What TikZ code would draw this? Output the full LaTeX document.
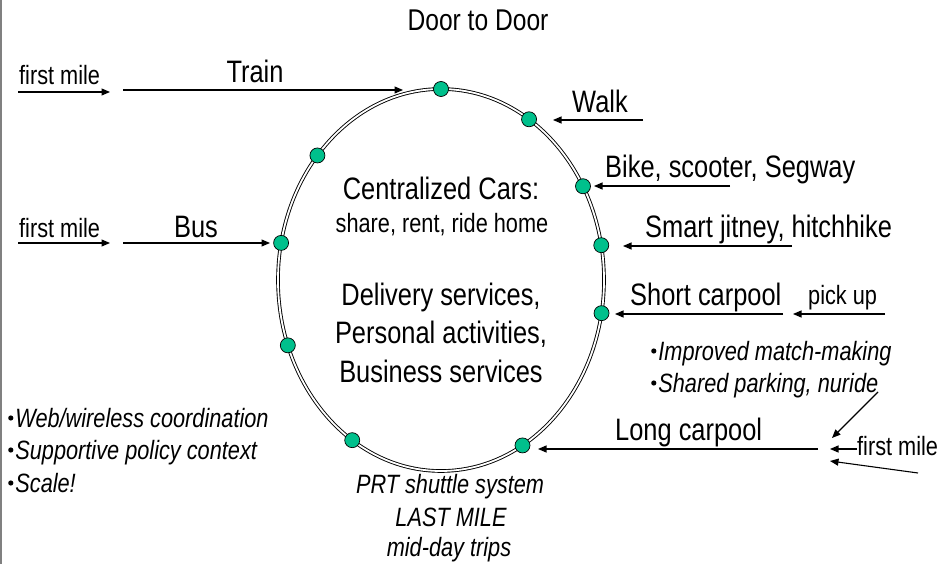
\documentclass[tikz,border=0pt]{standalone}
\usepackage{fontspec}
\setmainfont{Liberation Sans}[FakeStretch=0.82]
\usetikzlibrary{arrows.meta,calc}
\definecolor{dotgreen}{RGB}{0,192,140}
\newcommand{\mybul}{\tikz[baseline=0pt, x=1pt, y=1pt]{\path (0,0) -- (5,0); \fill[black] (2.5,9) circle[radius=2.6pt];}\hspace{2pt}}
\begin{document}
\begin{tikzpicture}[x=1pt,y=-1pt,
 big/.style={font=\fontsize{31}{31}\selectfont, inner sep=0pt, anchor=base},
 bigw/.style={font=\fontsize{31}{31}\selectfont, inner sep=0pt, anchor=base west},
 small/.style={font=\fontsize{26.5}{26.5}\selectfont, inner sep=0pt, anchor=base},
 smallw/.style={font=\fontsize{26.5}{26.5}\selectfont, inner sep=0pt, anchor=base west},
 note/.style={font=\fontsize{26.5}{26.5}\selectfont\itshape, inner sep=0pt, anchor=base west},
 notec/.style={font=\fontsize{26.5}{26.5}\selectfont\itshape, inner sep=0pt, anchor=base},
 arr/.style={-{Triangle[length=8.5pt,width=7pt]}, line width=1.1pt},
 dot/.style={circle, draw=black, line width=0.7pt, fill=dotgreen, minimum size=15pt, inner sep=0pt},
 ring/.style={double, double distance=1.8pt, line width=0.9pt}
]
\useasboundingbox (0,0) rectangle (938,564);
\draw[gray, line width=1.5pt] (1,0) -- (1,564);

% title
\node[font=\fontsize{30}{30}\selectfont, inner sep=0pt, anchor=base] (door) at (478,31) {Door to Door};

% ring
\draw[ring] (441,280) ellipse [x radius=163pt, y radius=191pt];

% dots on ring
\foreach \n/\t in {top/90, walk/57.3, ul/139.3, bike/29.4, bus/168.8, jit/10.5, short/-10, ll/200, bl/237, long/-60}
  \node[dot] (d\n) at ({441+163*cos(\t)},{280-191*sin(\t)}) {};

% centre text
\node[big] (cc) at (441,200) {Centralized Cars:};
\node[small] (sr) at (442,233) {share, rent, ride home};
\node[big] (del) at (441,306) {Delivery services,};
\node[big] (per) at (441,344) {Personal activities,};
\node[big] (bus2) at (441,382) {Business services};

% left side
\node[smallw] (fm1) at (19,85) {first mile};
\coordinate (fm1a) at (18,92); \coordinate (fm1b) at (110,92);
\draw[arr] (fm1a) -- (fm1b);
\node[big] (train) at (255,83) {Train};
\coordinate (tra) at (123,90); \coordinate (trb) at (403,90);
\draw[arr] (tra) -- (trb);

\node[smallw] (fm2) at (19,238) {first mile};
\coordinate (fm2a) at (18,243); \coordinate (fm2b) at (110,243);
\draw[arr] (fm2a) -- (fm2b);
\node[big] (bus) at (196,238) {Bus};
\coordinate (bua) at (123,243); \coordinate (bub) at (270,243);
\draw[arr] (bua) -- (bub);

% right side
\node[bigw] (walk) at (572,113) {Walk};
\coordinate (wa) at (643,120); \coordinate (wb) at (553,120);
\draw[arr] (wa) -- (wb);

\node[bigw] (bike) at (605,178) {Bike, scooter, Segway};
\coordinate (ba) at (730,186); \coordinate (bb) at (594,186);
\draw[arr] (ba) -- (bb);

\node[bigw] (jit) at (645,238) {Smart jitney, hitchhike};
\coordinate (ja) at (792,246); \coordinate (jb) at (623,246);
\draw[arr] (ja) -- (jb);

\node[bigw] (short) at (630,306) {Short carpool};
\coordinate (sa) at (783,314); \coordinate (sb) at (615,314);
\draw[arr] (sa) -- (sb);

\node[smallw] (pick) at (808,305) {pick up};
\coordinate (pa) at (885,314); \coordinate (pb) at (793,314);
\draw[arr] (pa) -- (pb);

\node[note] (imp) at (651,360) {\mybul Improved match-making};
\node[note] (shp) at (651,392) {\mybul Shared parking, nuride};

\node[bigw] (long) at (615,440) {Long carpool};
\coordinate (la) at (818,449); \coordinate (lb) at (538,449);
\draw[arr] (la) -- (lb);

\node[smallw] (fm3) at (857,455) {first mile};
\coordinate (f3a) at (857,449); \coordinate (f3b) at (830,449);
\draw[arr] (f3a) -- (f3b);
\coordinate (dga) at (878,392); \coordinate (dgb) at (832,438);
\draw[arr] (dga) -- (dgb);
\coordinate (dla) at (918,473); \coordinate (dlb) at (830,461);
\draw[arr] (dla) -- (dlb);

% bottom left notes
\node[note] (web) at (8,427) {\mybul Web/wireless coordination};
\node[note] (sup) at (8,459) {\mybul Supportive policy context};
\node[note] (sca) at (8,492) {\mybul Scale!};

% bottom
\node[notec] (prt) at (450,493) {PRT shuttle system};
\node[notec] (last) at (451,526) {LAST MILE};
\node[notec] (mid) at (449,556) {mid-day trips};
\end{tikzpicture}
\end{document}
